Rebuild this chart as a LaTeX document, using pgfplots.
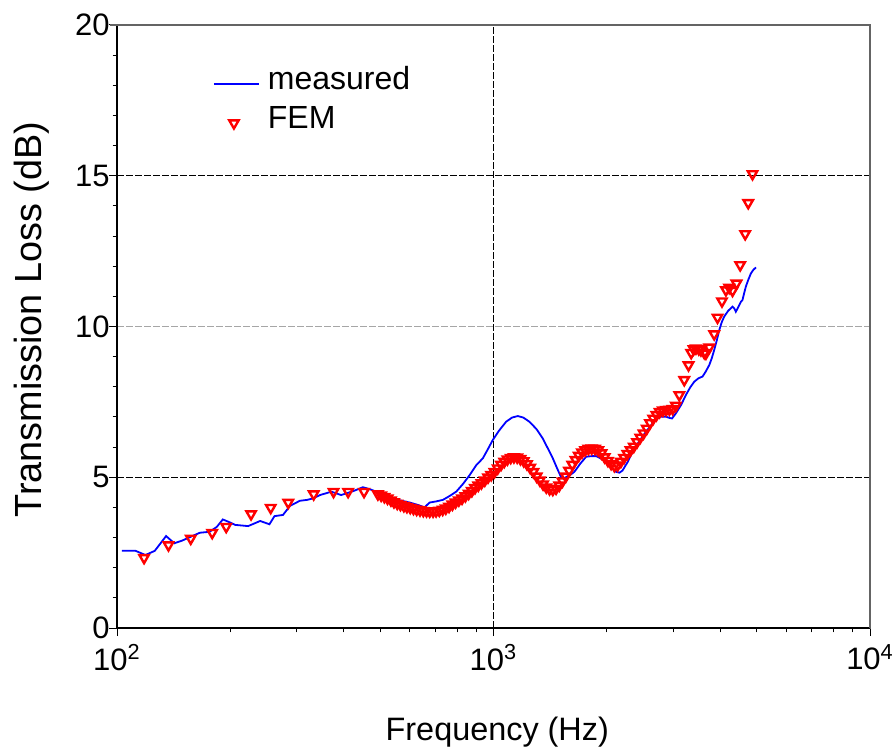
\documentclass[border=0pt]{standalone}
\usepackage{fontspec}
\setmainfont{Liberation Sans}
\usepackage{pgfplots}
\pgfplotsset{compat=1.18}

\definecolor{tlblue}{RGB}{0,0,255}
\definecolor{femred}{RGB}{255,0,0}
\definecolor{framegray}{RGB}{100,100,100}

\pgfplotsset{
  lineleg/.style={legend image code/.code={\draw[##1] (0pt,0pt) -- (22.5pt,0pt); \path[draw=none] (0pt,0pt) -- (27pt,0pt);}},
  markleg/.style={legend image code/.code={\draw[##1] plot coordinates {(10pt,0pt)}; \path[draw=none] (0pt,0pt) -- (27pt,0pt);}},
}

\begin{document}
\begin{tikzpicture}
\begin{axis}[
  scale only axis,
  width=376.5pt, height=301.5pt,
  xmode=log,
  xmin=100, xmax=10000,
  ymin=0, ymax=20,
  axis line style={framegray, line width=1pt},
  xtick pos=bottom, ytick pos=left,
  xtick={100,1000,10000},
  xticklabels={10\textsuperscript{2},10\textsuperscript{3},10\textsuperscript{4}},
  ytick={0,5,10,15,20},
  minor y tick num=4,
  tick align=outside,
  major tick length=4pt,
  minor tick length=2.2pt,
  tick style={black, line width=0.5pt},
  /pgf/number format/assume math mode=true,
  tick label style={font=\fontsize{15.5}{18}\selectfont},
  yticklabel style={inner sep=0pt, xshift=0.5pt},
  xticklabel style={inner sep=0pt, yshift=-4pt},
  xlabel={Frequency (Hz)},
  ylabel={Transmission Loss (dB)},
  xlabel style={font=\fontsize{16.2}{19}\selectfont, at={(axis description cs:0.505,-0.172)}, anchor=center},
  ylabel style={font=\fontsize{18.9}{22}\selectfont, at={(axis description cs:-0.113,0.511)}, anchor=center},
  legend style={at={(axis description cs:0.127,0.935)}, anchor=north west,
    draw=none, fill=none, inner sep=0pt,
    font=\fontsize{16}{19}\selectfont,
    nodes={inner sep=0pt, text height=12.5pt, text depth=7pt}},
  legend cell align=left,
  clip=false,
  after end axis/.code={
    % black left and bottom axis lines, top edge reaching past the left axis
    \draw[black, line width=0.6pt] (rel axis cs:0,1) -- (rel axis cs:0,0) -- (rel axis cs:1,0);
    \draw[framegray, line width=1pt] (rel axis cs:-0.0093,1) -- (rel axis cs:1,1) -- (rel axis cs:1,0);
  },
]
% reference lines
\draw[black, dash pattern=on 3.5pt off 1pt, line width=0.5pt] (axis cs:100,5) -- (axis cs:10000,5);
\draw[black, dash pattern=on 3.5pt off 1pt, line width=0.5pt] (axis cs:100,15) -- (axis cs:10000,15);
\draw[gray!70, dash pattern=on 3.5pt off 1pt, line width=0.5pt] (axis cs:100,10) -- (axis cs:10000,10);
\draw[black, dash pattern=on 3.5pt off 1pt, line width=0.5pt] (axis cs:1000,0) -- (axis cs:1000,20);

\addplot[tlblue, line width=0.9pt, mark=none, lineleg]
table {
103 2.56
112 2.56
119 2.42
126 2.56
135 3.05
142 2.81
149 2.90
156 3.01
166 3.16
176 3.19
184 3.35
191 3.60
198 3.52
206 3.42
223 3.38
240 3.55
254 3.44
262 3.71
276 3.75
288 4.05
306 4.22
320 4.25
332 4.30
346 4.41
371 4.52
394 4.41
424 4.54
450 4.67
470 4.60
489 4.52
515 4.40
541 4.30
570 4.22
599 4.16
630 4.08
656 4.00
676 4.16
705 4.20
734 4.25
765 4.38
796 4.52
830 4.78
864 5.07
900 5.40
937 5.63
966 5.93
996 6.24
1035 6.55
1080 6.84
1120 6.98
1160 7.03
1200 6.98
1246 6.84
1300 6.60
1351 6.29
1395 5.95
1437 5.63
1475 5.30
1512 5.00
1540 4.95
1565 5.02
1600 5.08
1640 5.18
1700 5.45
1762 5.68
1820 5.70
1873 5.70
1930 5.62
1991 5.52
2050 5.35
2116 5.18
2160 5.15
2200 5.22
2270 5.50
2342 5.85
2440 6.20
2541 6.51
2650 6.80
2756 7.01
2871 7.01
2930 6.97
2980 6.95
3051 7.12
3150 7.40
3244 7.73
3330 7.98
3414 8.17
3500 8.28
3591 8.34
3660 8.50
3741 8.72
3800 8.95
3856 9.22
3920 9.55
3978 9.88
4040 10.15
4100 10.33
4200 10.52
4313 10.66
4360 10.60
4402 10.49
4470 10.65
4540 10.82
4585 10.88
4630 11.10
4679 11.32
4750 11.55
4826 11.76
4900 11.88
4977 11.96
};
\addlegendentry{measured}

\addplot[only marks, mark=triangle, mark size=2.7pt,
  mark options={rotate=180, draw=femred, fill=none, line width=1.2pt}, markleg]
table {
118 2.33
137 2.75
157 2.97
179 3.16
195 3.36
227 3.78
256 3.99
285 4.16
333 4.44
376 4.52
411 4.52
453 4.52
493 4.44
503 4.40
513 4.35
523 4.30
534 4.24
544 4.18
555 4.13
566 4.09
578 4.05
589 4.02
601 3.99
613 3.96
625 3.93
638 3.91
651 3.89
664 3.88
677 3.87
691 3.87
704 3.88
718 3.90
733 3.93
747 3.97
762 4.03
778 4.10
793 4.17
809 4.24
825 4.30
842 4.38
859 4.46
876 4.55
893 4.65
911 4.73
929 4.81
948 4.90
967 5.00
986 5.08
1006 5.18
1026 5.30
1047 5.42
1068 5.52
1089 5.60
1111 5.65
1133 5.67
1156 5.66
1179 5.61
1203 5.54
1227 5.44
1251 5.32
1276 5.18
1302 5.03
1328 4.90
1354 4.77
1381 4.67
1409 4.61
1437 4.59
1466 4.63
1495 4.73
1525 4.87
1556 5.03
1587 5.22
1619 5.42
1651 5.58
1684 5.72
1718 5.83
1752 5.90
1787 5.95
1823 5.96
1860 5.95
1897 5.90
1935 5.80
1973 5.67
2013 5.55
2053 5.45
2094 5.38
2136 5.40
2179 5.52
2222 5.65
2267 5.78
2312 5.90
2358 6.02
2406 6.17
2454 6.32
2503 6.46
2553 6.62
2604 6.80
2656 6.95
2709 7.07
2763 7.17
2818 7.22
2875 7.24
2932 7.25
2991 7.27
3051 7.38
3115 7.73
3211 8.23
3296 8.72
3350 9.13
3400 9.25
3449 9.28
3510 9.25
3556 9.22
3629 9.13
3666 9.11
3741 9.31
3856 9.75
3936 10.30
4044 10.84
4143 11.21
4227 11.29
4313 11.19
4419 11.43
4520 12.04
4661 13.07
4748 14.10
4874 15.06
};
\addlegendentry{FEM}

\coordinate (ll) at (rel axis cs:0,0);
\coordinate (ur) at (rel axis cs:1,1);
\end{axis}
\pgfresetboundingbox
\useasboundingbox ([shift={(-58.5pt,-63.5pt)}]ll) rectangle ([shift={(12pt,12.5pt)}]ur);
\end{tikzpicture}
\end{document}
